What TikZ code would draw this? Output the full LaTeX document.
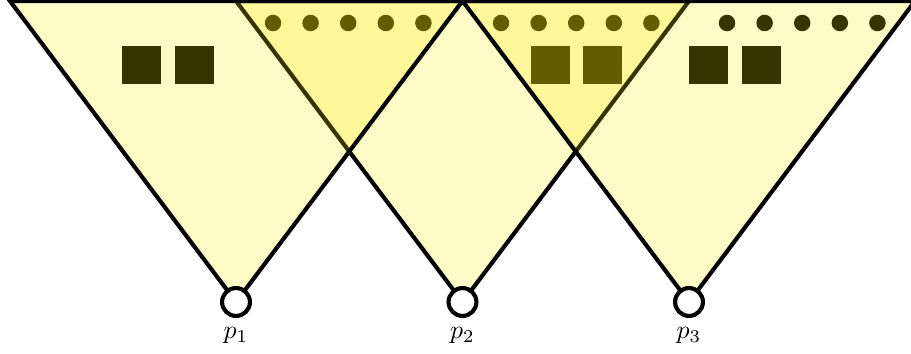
\documentclass[tikz,border=0pt]{standalone}
\usepackage{amsmath}
\usepackage{tikz}
\usetikzlibrary{positioning}
\usepackage{xcolor}

\definecolor{conefill}{RGB}{255,238,0}

\begin{document}
\begin{tikzpicture}[x=0.3875pt,y=-0.3875pt,
	cone/.style={fill=conefill, fill opacity=0.22, draw=black, line width=1.6pt},
	camera/.style={circle, draw=black, fill=white, line width=1.6pt, minimum size=10.8pt, inner sep=0pt, label distance=1pt}]
	\useasboundingbox (0,0) rectangle (911,354);
	% apexes and top corners of the cones
	\coordinate (a1) at (236,302);
	\coordinate (a2) at (462.5,302);
	\coordinate (a3) at (689,302);
	\coordinate (t0) at (10,1);
	\coordinate (t1) at (236,1);
	\coordinate (t2) at (462.5,1);
	\coordinate (t3) at (689,1);
	\coordinate (t4) at (915,1);
	% features, under the cones
	\foreach \x in {273,501,727}
		\foreach \i in {0,...,4}
			\fill (\x+37.6*\i,23) circle (3.2pt);
	\foreach \x in {122,175,531,583,689,742}
		\fill (\x,46) rectangle +(39,38);
	% cones
	\draw[cone] (a2) -- (t1) -- (t3) -- cycle;
	\draw[cone] (a1) -- (t0) -- (t2) -- cycle;
	\draw[cone] (a3) -- (t2) -- (t4) -- cycle;
	% cameras
	\node[camera, label=below:$p_1$] (p1) at (a1) {};
	\node[camera, label=below:$p_2$] (p2) at (a2) {};
	\node[camera, label=below:$p_3$] (p3) at (a3) {};
\end{tikzpicture}
\end{document}
